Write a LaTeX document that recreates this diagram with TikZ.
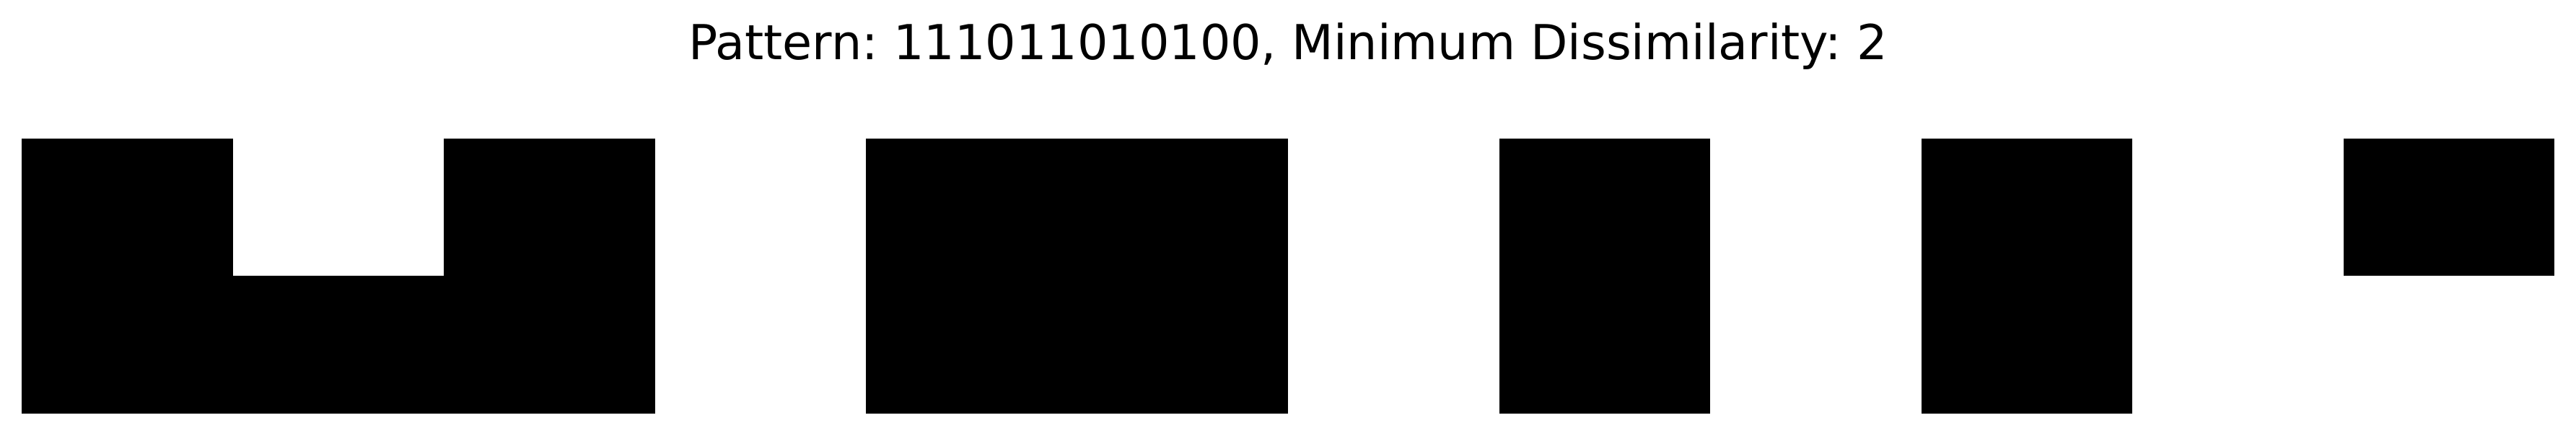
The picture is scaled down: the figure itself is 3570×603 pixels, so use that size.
\documentclass[tikz,border=0pt]{standalone}
\usepackage{fontspec}
\setmainfont{DejaVu Sans}
\begin{document}
\frenchspacing
\begin{tikzpicture}[x=1pt,y=-1pt]
\tikzset{cell/.style={fill=black,draw=none}}
\fill[white] (0,0) rectangle (3570,603);
\useasboundingbox (0,0) rectangle (3570,603);
\node[anchor=base,inner sep=0pt,font=\fontsize{66.8}{80}\selectfont] (title) at (1785,82) {Pattern: 111011010100, Minimum Dissimilarity: 2};
% top row
\foreach \c in {0,2,4,5,7,9,11}{
  \fill[cell] ({30+292.5*\c},192) rectangle ({30+292.5*(\c+1)},382);
}
% bottom row
\foreach \c in {0,1,2,4,5,7,9}{
  \fill[cell] ({30+292.5*\c},382) rectangle ({30+292.5*(\c+1)},573);
}
\end{tikzpicture}
\end{document}
